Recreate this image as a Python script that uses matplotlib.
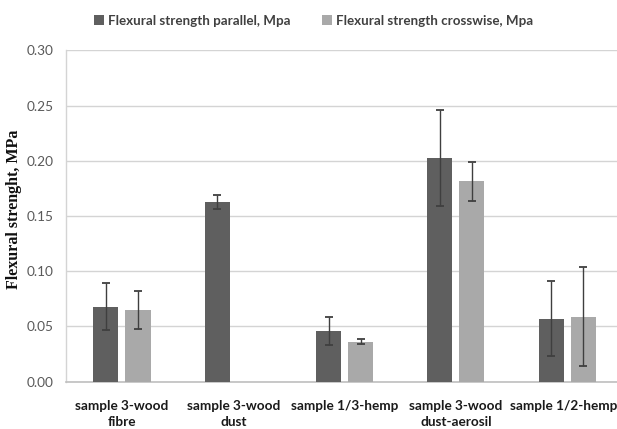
import numpy as np
import matplotlib
matplotlib.use("Agg")
import matplotlib.pyplot as plt
from matplotlib.patches import Patch
from matplotlib.transforms import ScaledTranslation

categories = ["sample 3-wood\nfibre", "sample 3-wood\ndust", "sample 1/3-hemp",
              "sample 3-wood\ndust-aerosil", "sample 1/2-hemp"]
series_names = ["Flexural strength parallel, Mpa", "Flexural strength crosswise, Mpa"]
parallel = [0.068, 0.163, 0.046, 0.2025, 0.057]
parallel_err = [0.021, 0.0065, 0.013, 0.0435, 0.034]
crosswise = [0.065, np.nan, 0.036, 0.1815, 0.059]
crosswise_err = [0.017, np.nan, 0.0023, 0.0176, 0.045]
y_ticks = [0.00, 0.05, 0.10, 0.15, 0.20, 0.25, 0.30]

dark = "#5f5f5f"
light = "#a9a9a9"
err_color = "#3f3f3f"

fig = plt.figure(figsize=(6.17, 4.29), dpi=100)
ax = fig.add_axes([0.1075, 0.1103, 0.902, 0.772])

x = np.arange(len(categories))
w = 0.225
off = 0.144

for vals, errs, shift, col in [(parallel, parallel_err, -off, dark),
                               (crosswise, crosswise_err, off, light)]:
    vals = np.asarray(vals, float)
    errs = np.asarray(errs, float)
    ok = np.isfinite(vals)
    ax.bar(x[ok] + shift, vals[ok], width=w, color=col, zorder=3)
    ax.errorbar(x[ok] + shift, vals[ok], yerr=errs[ok], fmt="none",
                ecolor=err_color, elinewidth=1.0, capsize=2.6, capthick=1.3,
                zorder=4)

ax.set_xlim(-0.5, len(categories) - 0.5)
ax.set_ylim(0, 0.30)
ax.set_yticks(y_ticks)
ax.set_yticklabels([f"{t:.2f}" for t in y_ticks], fontfamily="Lato",
                   fontsize=9.8, color="#595959")
ax.set_xticks(x)
xlabels = ax.set_xticklabels(categories, fontfamily="Lato", fontweight="bold",
                             fontsize=9.8, color="#1a1a1a", linespacing=1.45)
ax.tick_params(axis="both", length=0)
ax.tick_params(axis="y", pad=9)
ax.tick_params(axis="x", pad=13)
# keep the last category name inside the canvas
xlabels[-1].set_transform(xlabels[-1].get_transform()
                          + ScaledTranslation(-0.035, 0, fig.dpi_scale_trans))

ax.grid(axis="y", color="#d4d4d4", linewidth=1.0, zorder=0)
ax.set_axisbelow(True)
for s in ["top", "right"]:
    ax.spines[s].set_visible(False)
ax.spines["left"].set_color("#d4d4d4")
ax.spines["left"].set_linewidth(1.0)
ax.spines["bottom"].set_color("#bfbfbf")
ax.spines["bottom"].set_linewidth(1.2)

fig.text(0.023, 0.513, "Flexural strenght, MPa", rotation=90, ha="center",
         va="center", fontfamily="Liberation Serif", fontweight="bold",
         fontsize=11.5, color="#111111")

handles = [Patch(facecolor=dark, edgecolor="none"),
           Patch(facecolor=light, edgecolor="none")]
fig.legend(handles, series_names, loc="center", bbox_to_anchor=(0.508, 0.952),
           ncol=2, frameon=False, handlelength=0.75, handleheight=0.75,
           handletextpad=0.3, columnspacing=2.4,
           prop={"family": "Lato", "weight": "bold", "size": 9.6})
for t in fig.legends[0].get_texts():
    t.set_color("#404040")

fig.savefig("out.png", dpi=100)
